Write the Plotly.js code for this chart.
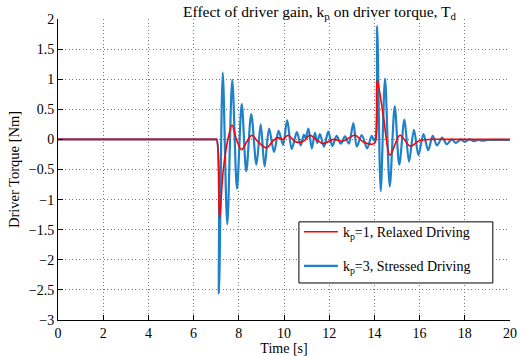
<!DOCTYPE html>
<html>
<head>
<meta charset="utf-8">
<script src="https://cdn.plot.ly/plotly-3.0.1.min.js"></script>
<style>html,body{margin:0;padding:0;background:#fff;}#chart{width:522px;height:356px;}</style>
</head>
<body>
<div id="chart"></div>
<script>
// Time axis ticks
const xTicks = [0, 2, 4, 6, 8, 10, 12, 14, 16, 18, 20];
const yTicks = [-3, -2.5, -2, -1.5, -1, -0.5, 0, 0.5, 1, 1.5, 2];

// kp = 1, Relaxed Driving (red)
const relaxedT = [0, 6.95, 7.02, 7.15, 7.31, 7.54, 7.7, 7.9, 8.12, 8.35, 8.58, 8.85, 9.22, 9.5, 9.72, 9.95, 10.18, 10.5, 10.86, 11.15, 11.45, 11.74, 12.18, 12.6, 13.14, 13.5, 13.9, 14.04, 14.12, 14.4, 14.69, 15.13, 15.58, 16.0, 16.5, 17.5, 20];
const relaxedV = [0, 0, 0, -1.31, -0.51, 0.04, 0.24, -0.01, -0.17, -0.04, 0.07, -0.04, -0.14, -0.03, 0.03, 0.0, 0.07, -0.04, -0.03, 0.07, -0.01, -0.07, 0.0, -0.03, 0.07, -0.04, -0.08, -0.05, 0.99, 0.38, -0.26, 0.07, -0.11, -0.02, 0.0, 0.0, 0.0];

// kp = 3, Stressed Driving (blue)
const stressedT = [0, 6.95, 7.02, 7.12, 7.29, 7.49, 7.71, 7.92, 8.13, 8.33, 8.55, 8.78, 8.97, 9.14, 9.34, 9.56, 9.76, 9.96, 10.14, 10.34, 10.57, 10.74, 10.88, 10.96, 11.08, 11.23, 11.37, 11.47, 11.59, 11.77, 11.96, 12.14, 12.33, 12.51, 12.7, 12.87, 13.07, 13.22, 13.44, 13.68, 13.88, 13.98, 14.04, 14.12, 14.28, 14.47, 14.68, 14.9, 15.1, 15.33, 15.53, 15.75, 15.95, 16.17, 16.38, 16.58, 16.77, 17.0, 17.2, 17.42, 17.6, 17.82, 18.0, 18.2, 18.4, 18.6, 18.8, 19.0, 20];
const stressedV = [0, 0, 0, -2.56, 1.11, -1.41, 0.99, -0.82, 0.59, -0.53, 0.42, -0.42, 0.25, -0.45, 0.18, -0.21, 0.14, -0.09, 0.32, -0.16, 0.12, -0.1, 0.08, 0.02, 0.18, -0.15, 0.11, -0.06, 0.09, -0.12, 0.13, -0.11, 0.06, -0.07, 0.05, -0.07, 0.27, -0.12, 0.07, -0.15, 0.06, -0.02, 0.0, 1.88, -0.86, 1.01, -0.78, 0.55, -0.42, 0.33, -0.37, 0.16, -0.26, 0.09, -0.18, 0.06, -0.1, 0.03, -0.08, 0.0, -0.06, 0.0, -0.04, 0.0, -0.03, -0.01, -0.02, -0.01, -0.01];

const serif = '"Liberation Serif", "Times New Roman", serif';

const traces = [
  {
    x: stressedT, y: stressedV, type: 'scatter', mode: 'lines',
    name: 'k<sub>p</sub>=3, Stressed Driving',
    line: {color: '#1f82c8', width: 2.2, shape: 'spline', smoothing: 0.9},
    legendrank: 2, legendgroup: 'b'
  },
  {
    x: relaxedT, y: relaxedV, type: 'scatter', mode: 'lines',
    name: 'k<sub>p</sub>=1, Relaxed Driving',
    line: {color: '#ff0000', width: 1.6, shape: 'spline', smoothing: 0.9},
    legendrank: 1, legendgroup: 'a'
  }
];

const axisCommon = {
  ticks: 'inside', ticklen: 5, tickcolor: '#000', tickwidth: 1,
  showline: true, linecolor: '#000', linewidth: 1,
  showgrid: true, gridcolor: '#777', griddash: '1px,2.5px', gridwidth: 1,
  zeroline: false, mirror: false,
  tickfont: {family: serif, size: 14, color: '#000'}
};

const layout = {
  width: 522, height: 356,
  margin: {l: 58, r: 12, t: 19, b: 36, pad: 0},
  paper_bgcolor: '#fff', plot_bgcolor: '#fff',
  font: {family: serif, color: '#000', size: 14},
  title: {
    text: 'Effect of driver gain, k<sub>p</sub> on driver torque, T<sub>d</sub>',
    x: 0.612, xref: 'container', xanchor: 'center',
    y: 0.968, yref: 'container', yanchor: 'middle',
    font: {family: serif, size: 15.5, color: '#000'}
  },
  xaxis: Object.assign({}, axisCommon, {
    range: [0, 20], tickvals: xTicks,
    title: {text: 'Time [s]', font: {family: serif, size: 14, color: '#000'}, standoff: 1}
  }),
  yaxis: Object.assign({}, axisCommon, {
    range: [-3, 2], tickvals: yTicks,
    title: {text: 'Driver Torque [Nm]', font: {family: serif, size: 14.5, color: '#000'}, standoff: 5}
  }),
  shapes: [{
    type: 'rect', xref: 'paper', yref: 'paper', layer: 'above',
    x0: 0.533, x1: 0.962, y0: 0.123, y1: 0.326,
    fillcolor: '#fff', line: {color: '#000', width: 1}
  }],
  showlegend: true,
  legend: {
    x: 0.533, xanchor: 'left', y: 0.345, yanchor: 'top',
    bgcolor: 'rgba(0,0,0,0)', borderwidth: 0,
    font: {family: serif, size: 14, color: '#000'},
    traceorder: 'grouped', tracegroupgap: 13,
    itemwidth: 34
  }
};

Plotly.newPlot('chart', traces, layout, {displayModeBar: false, staticPlot: true});
</script>
</body>
</html>
